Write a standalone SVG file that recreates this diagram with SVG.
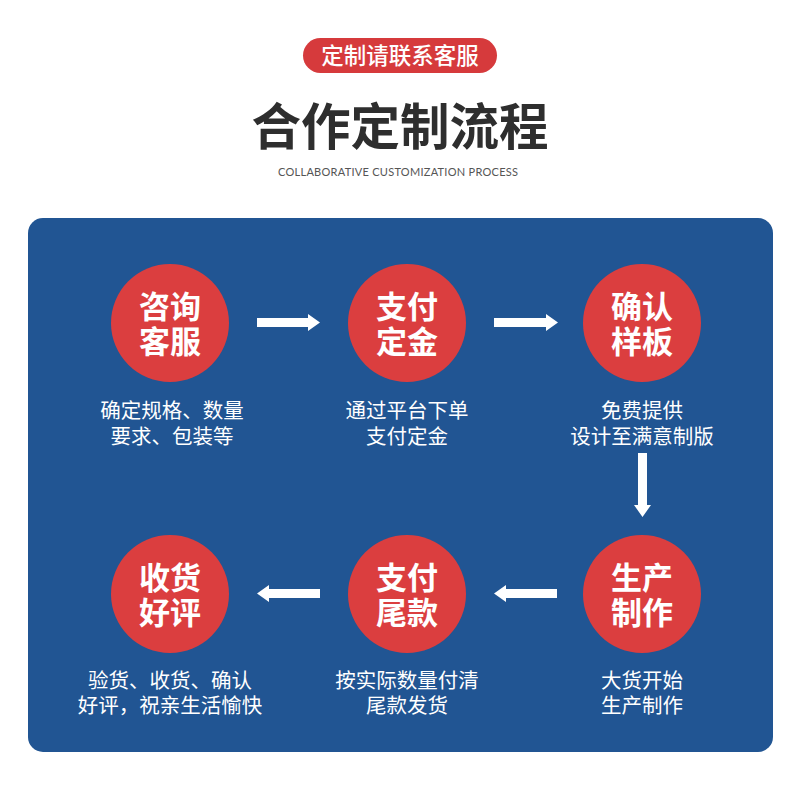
<svg xmlns="http://www.w3.org/2000/svg" width="800" height="799" viewBox="0 0 800 799">
<style>
.cn{font-family:"Noto Sans CJK SC","Noto Sans",sans-serif}
.ct{font-family:"Noto Sans CJK SC",sans-serif;font-size:31px;font-weight:700;fill:#fff;text-anchor:middle}
.lb{font-family:"Noto Sans CJK SC",sans-serif;font-size:20.5px;fill:#fff;text-anchor:middle}
.c{fill:#db3e3f}
.ar{fill:#fff}
</style>
<rect width="800" height="799" fill="#fff"/>
<rect x="303" y="38" width="194" height="35" rx="17.5" fill="#d63a3c"/>
<text x="400" y="64" class="cn" font-size="22.5" font-weight="500" fill="#fff" text-anchor="middle">定制请联系客服</text>
<text x="400" y="145" class="cn" font-size="49.5" font-weight="700" fill="#2e2e2e" text-anchor="middle">合作定制流程</text>
<text x="398" y="176" font-family="Lato,'Noto Sans',sans-serif" font-size="11" fill="#555" text-anchor="middle" textLength="240">COLLABORATIVE CUSTOMIZATION PROCESS</text>
<rect x="28" y="218" width="745" height="534" rx="15" fill="#215593"/>
<g id="connectors">
<path class="ar" d="M257 318H308V314L320 322.5L308 331V327H257Z"/>
<path class="ar" d="M494 318H546V314L558 322.5L546 331V327H494Z"/>
<path class="ar" d="M638 453H647V505H651L642.5 517L634 505H638Z"/>
<path class="ar" d="M557 589H506V585L494 593.5L506 602V598H557Z"/>
<path class="ar" d="M320 589H269V585L257 593.5L269 602V598H320Z"/>
</g>
<g id="n1"><circle class="c" cx="170" cy="323" r="59"/><text class="ct"><tspan x="170" y="318">咨询</tspan><tspan x="170" y="353">客服</tspan></text>
<text class="lb"><tspan x="172" y="418">确定规格、数量</tspan><tspan x="172" y="444">要求、包装等</tspan></text></g>
<g id="n2"><circle class="c" cx="407" cy="323" r="59"/><text class="ct"><tspan x="407" y="318">支付</tspan><tspan x="407" y="353">定金</tspan></text>
<text class="lb"><tspan x="407" y="418">通过平台下单</tspan><tspan x="407" y="444">支付定金</tspan></text></g>
<g id="n3"><circle class="c" cx="642" cy="323" r="59"/><text class="ct"><tspan x="642" y="318">确认</tspan><tspan x="642" y="353">样板</tspan></text>
<text class="lb"><tspan x="642" y="418">免费提供</tspan><tspan x="642" y="444">设计至满意制版</tspan></text></g>
<g id="n4"><circle class="c" cx="642" cy="594" r="59"/><text class="ct"><tspan x="642" y="589">生产</tspan><tspan x="642" y="624">制作</tspan></text>
<text class="lb"><tspan x="642" y="688">大货开始</tspan><tspan x="642" y="713">生产制作</tspan></text></g>
<g id="n5"><circle class="c" cx="407" cy="594" r="59"/><text class="ct"><tspan x="407" y="589">支付</tspan><tspan x="407" y="624">尾款</tspan></text>
<text class="lb"><tspan x="407" y="688">按实际数量付清</tspan><tspan x="407" y="713">尾款发货</tspan></text></g>
<g id="n6"><circle class="c" cx="170" cy="594" r="59"/><text class="ct"><tspan x="170" y="589">收货</tspan><tspan x="170" y="624">好评</tspan></text>
<text class="lb"><tspan x="170" y="688">验货、收货、确认</tspan><tspan x="170" y="713">好评，祝亲生活愉快</tspan></text></g>
</svg>
